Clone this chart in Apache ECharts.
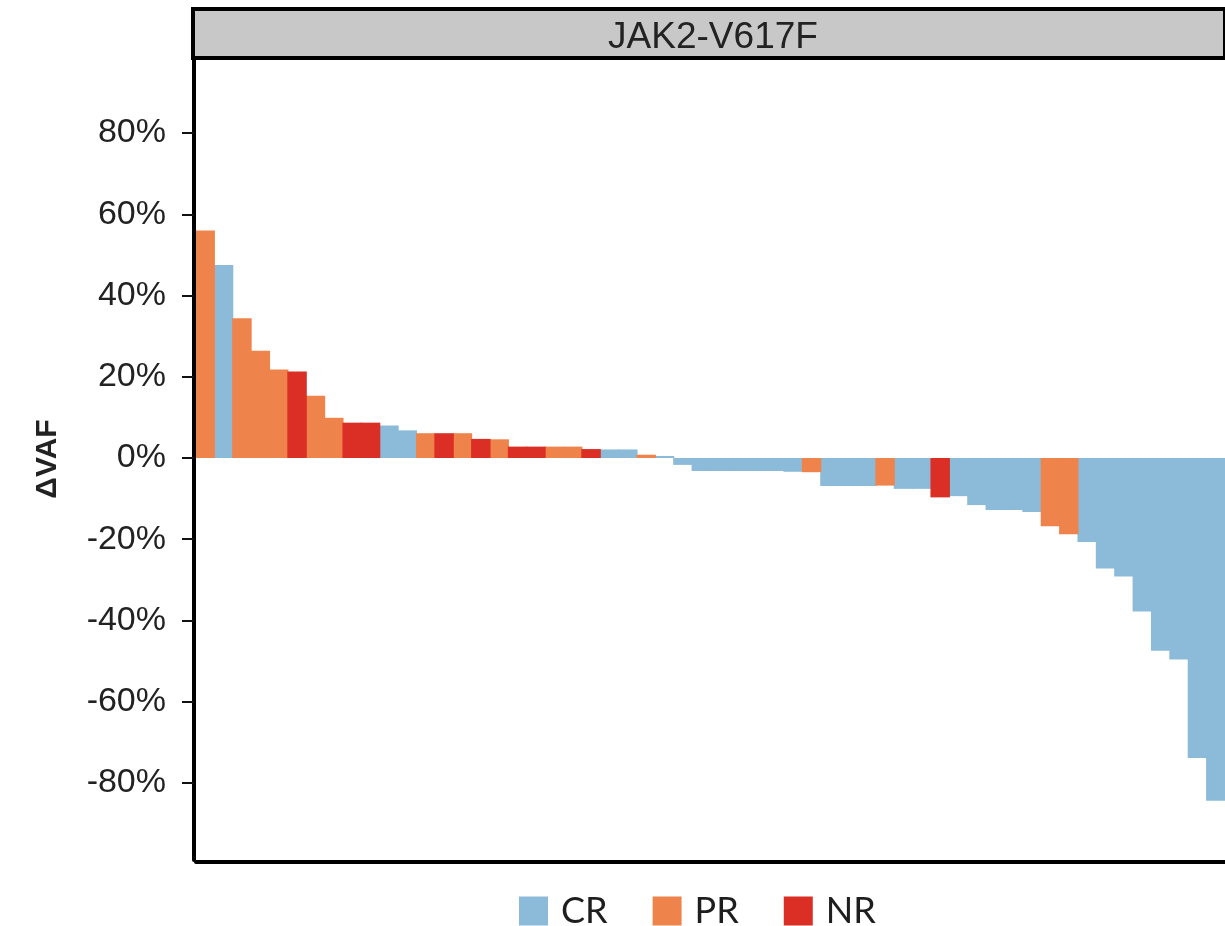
<!DOCTYPE html>
<html>
<head>
<meta charset="utf-8">
<script src="https://cdn.jsdelivr.net/npm/echarts@6/dist/echarts.min.js"></script>
<style>
  html, body { margin: 0; padding: 0; background: #fff; overflow: hidden; }
  #chart { width: 1225px; height: 926px; }
</style>
</head>
<body>
<div id="chart"></div>
<script>
// Change in JAK2-V617F variant allele fraction per patient, sorted high to low
const panelTitle = 'JAK2-V617F';
const responseGroups = ['CR', 'PR', 'NR'];
const groupColors = ['#8bbbd9', '#ef834c', '#db2e25'];
const yTicks = [-80, -60, -40, -20, 0, 20, 40, 60, 80];

// ΔVAF in percent, one bar per patient
const deltaVaf = [
  56.0, 47.5, 34.4, 26.4, 21.8, 21.3, 15.3, 9.9, 8.7, 8.7,
  8.0, 6.8, 6.1, 6.1, 6.1, 4.7, 4.6, 2.8, 2.8, 2.8,
  2.8, 2.2, 2.1, 2.1, 0.8, 0.5, -1.7, -3.2, -3.2, -3.2,
  -3.2, -3.2, -3.4, -3.5, -6.9, -6.9, -6.9, -6.8, -7.6, -7.6,
  -9.7, -9.4, -11.6, -12.8, -12.8, -13.3, -16.8, -18.8, -20.7, -27.2,
  -29.2, -37.8, -47.5, -49.6, -73.9, -84.4
];

// Best response of each patient
const response = [
  'PR', 'CR', 'PR', 'PR', 'PR', 'NR', 'PR', 'PR', 'NR', 'NR',
  'CR', 'CR', 'PR', 'NR', 'PR', 'NR', 'PR', 'NR', 'NR', 'PR',
  'PR', 'NR', 'CR', 'CR', 'PR', 'CR', 'CR', 'CR', 'CR', 'CR',
  'CR', 'CR', 'CR', 'PR', 'CR', 'CR', 'CR', 'PR', 'CR', 'CR',
  'NR', 'CR', 'CR', 'CR', 'CR', 'CR', 'PR', 'PR', 'CR', 'CR',
  'CR', 'CR', 'CR', 'CR', 'CR', 'CR'
];

const patients = deltaVaf.map((_, i) => 'P' + (i + 1));

// plot panel geometry
const plotLeft = 196;
const plotWidth = 1034;
// bars are drawn a hair wider than their slot so neighbours meet without seams
const barPx = plotWidth / patients.length + 1;

const series = responseGroups.map((g, gi) => ({
  name: g,
  type: 'bar',
  xAxisIndex: 0,
  yAxisIndex: 0,
  stack: 'vaf',
  barWidth: barPx,
  barGap: '-100%',
  itemStyle: { color: groupColors[gi] },
  emphasis: { disabled: true },
  data: deltaVaf.map((v, i) => (response[i] === g ? v : '-'))
}));

const chart = echarts.init(document.getElementById('chart'), null, { renderer: 'canvas' });

chart.setOption({
  animation: false,
  backgroundColor: '#ffffff',
  textStyle: { fontFamily: 'Liberation Sans, Arial, sans-serif' },
  title: {
    text: panelTitle,
    left: 708,
    top: 14,
    textAlign: 'center',
    textStyle: { fontSize: 37, fontWeight: 'normal', color: '#222', fontFamily: 'Liberation Sans, Arial, sans-serif' }
  },
  legend: {
    data: responseGroups,
    left: 519,
    top: 893,
    padding: 0,
    icon: 'rect',
    itemWidth: 29,
    itemHeight: 29,
    itemGap: 45,
    textStyle: { fontSize: 36, lineHeight: 29, color: '#1e1e1e', fontFamily: 'Lato, Liberation Sans, sans-serif', padding: [0, 0, 0, 8] }
  },
  grid: [
    { left: plotLeft, top: 58, width: plotWidth, bottom: 66, containLabel: false },
    { left: 193, top: 9, width: 1040, height: 49, show: true, backgroundColor: '#c8c8c8', borderColor: '#000', borderWidth: 4 }
  ],
  xAxis: [
    {
      type: 'category',
      gridIndex: 0,
      data: patients,
      offset: 2,
      axisLine: { show: true, onZero: false, lineStyle: { color: '#000', width: 4 } },
      axisTick: { show: false },
      axisLabel: { show: false },
      splitLine: { show: false }
    },
    { type: 'category', gridIndex: 1, show: false, data: [panelTitle] }
  ],
  yAxis: [
    {
      type: 'value',
      gridIndex: 0,
      min: -99,
      max: 98.5,
      offset: 2,
      name: 'ΔVAF',
      nameLocation: 'middle',
      nameGap: 131,
      nameTextStyle: { fontSize: 30, fontWeight: 'bold', color: '#222', fontFamily: 'Liberation Sans, Arial, sans-serif' },
      axisLine: { show: true, lineStyle: { color: '#000', width: 4 } },
      axisTick: { show: true, length: 12, lineStyle: { color: '#111', width: 2 }, customValues: yTicks },
      axisLabel: {
        customValues: yTicks,
        margin: 28,
        fontSize: 34,
        color: '#222',
        formatter: v => v + '%'
      },
      splitLine: { show: false }
    },
    { type: 'value', gridIndex: 1, show: false }
  ],
  series: series
});
</script>
</body>
</html>
